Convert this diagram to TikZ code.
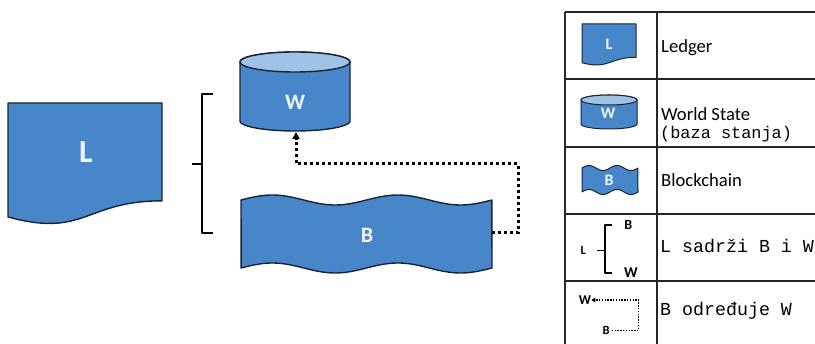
\documentclass[tikz,border=0pt]{standalone}
\usepackage{fontspec}
\setmainfont{Carlito}
\newfontfamily\monof{Liberation Mono}
\usetikzlibrary{arrows.meta}
\definecolor{shapeblue}{RGB}{72,134,202}
\definecolor{toplight}{RGB}{160,194,230}
\definecolor{edgecol}{RGB}{25,35,55}
\definecolor{lettercol}{RGB}{240,245,252}
\tikzset{
  shp/.style={fill=shapeblue, draw=edgecol, line width=1.4pt, line join=round},
  shpsmall/.style={fill=shapeblue, draw=edgecol, line width=1pt, line join=round},
  lettr/.style={text=lettercol, font=\bfseries\fontsize{#1}{#1}\selectfont, inner sep=0pt},
  blackletter/.style={text=black, font=\bfseries\fontsize{#1}{#1}\selectfont, inner sep=0pt},
  brk/.style={line width=2.3pt, line join=round},
  brksmall/.style={line width=1.6pt, line join=round},
  dotline/.style={line width=3pt, dash pattern=on 3pt off 3pt},
  dotsmall/.style={line width=1.4pt, dash pattern=on 1.4pt off 1.4pt},
  tbl/.style={line width=1.3pt, draw=black!85},
  legtxt/.style={anchor=base west, inner sep=0pt, font=\fontsize{18.6}{18.6}\selectfont},
  legmono/.style={anchor=base west, inner sep=0pt, font=\monof\fontsize{#1}{#1}\selectfont},
}
% document shape: x0, y0, w, h
\newcommand\mydocshape[5]{\draw[#5] (#1,#2) -- ({#1+#3},#2) -- ({#1+#3},{#2+0.802*#4})
  .. controls ({#1+#3/2},{#2+0.802*#4}) and ({#1+#3/2},{#2+1.1075*#4}) .. (#1,{#2+0.934*#4}) -- cycle;}
% cylinder: x0, x1, ytop-centre, ybottom-side-end, ry
\newcommand\mycylshape[6]{%
  \draw[#6] (#1,#3) -- (#1,#4)
    -- plot[domain=180:360,samples=40] ({(#1+#2)/2+(#2-#1)/2*cos(\x)},{#4-#5*sin(\x)})
    -- (#2,#3)
    -- plot[domain=0:180,samples=40] ({(#1+#2)/2+(#2-#1)/2*cos(\x)},{#3-#5*sin(\x)}) -- cycle;
  \draw[#6, fill=toplight] ({(#1+#2)/2},#3) ellipse [x radius={(#2-#1)/2}, y radius=#5];}
% wave banner: x0, w, ytop, ybottom, amplitude
\newcommand\mywaveshape[6]{%
  \draw[#6] plot[domain=0:1,samples=80] ({#1+#2*\x},{#3-#5*sin(720*\x)})
    -- plot[domain=1:0,samples=80] ({#1+#2*\x},{#4-#5*sin(720*\x)}) -- cycle;}

\begin{document}
\begin{tikzpicture}[x=1pt,y=-1pt]
\useasboundingbox (0,0) rectangle (815,344);
\fill[white] (0,0) rectangle (815,344);

% ---- main diagram ----
\mydocshape{8}{103}{154}{122}{shp}
\node[lettr=32] (Lmain) at (86,152) {L};

\mycylshape{240}{350}{62}{121}{10}{shp}
\node[lettr=22] (Wmain) at (295,102) {W};

\mywaveshape{241}{251}{200}{268}{5}{shp}
\node[lettr=22] (Bmain) at (367,235) {B};

% bracket
\coordinate (brTop) at (213,94);
\coordinate (brBot) at (213,233);
\coordinate (brMid) at (192,164);
\draw[brk] (brTop) -- (202,94) -- (202,233) -- (brBot);
\draw[brk] (brMid) -- (202,164);

% B determines W
\coordinate (Bport) at (492,233);
\coordinate (Wport) at (296,132);
\draw[dotline, -{Triangle[length=7pt,width=7pt]}] (Bport) -- (518,233) -- (518,164) -- (296,164) -- (Wport);

% ---- legend table ----
\draw[tbl] (565,12) -- (830,12);
\draw[tbl] (565,12) -- (565,350);
\draw[tbl] (657,12) -- (657,350);
\foreach \yy in {79,147,214,281} \draw[tbl] (565,\yy) -- (830,\yy);

% row 1
\mydocshape{582}{24}{54}{41.5}{shpsmall}
\node[lettr=16] (Lleg) at (609,44) {L};
\node[legtxt] (ledgerTxt) at (661,53) {Ledger};

% row 2
\mycylshape{581}{637}{100}{124}{5}{shpsmall}
\node[lettr=16] (Wleg) at (608,113) {W};
\node[legtxt] (wsTxt) at (661,120.5) {World State};
\node[legmono=16.9] (bazaTxt) at (660,139) {(baza stanja)};

% row 3
\mywaveshape{582}{56}{168}{192}{2.5}{shpsmall}
\node[lettr=16] (Bleg) at (609,180) {B};
\node[legtxt] (bcTxt) at (661,187) {Blockchain};

% row 4
\node[blackletter=12.5] (Lb) at (583.3,250.5) {L};
\node[blackletter=14] (Bb) at (628.3,224.5) {B};
\node[blackletter=15] (Wb) at (631,272.5) {W};
\draw[brksmall] (612.3,225) -- (605,225) -- (605,273.3) -- (612.3,273.3);
\draw[brksmall] (597.3,250.5) -- (605,250.5);
\node[legmono=18.3] (sadTxt) at (660,253) {L sadrži B i W};

% row 5
\node[blackletter=13.5] (Wd) at (585,300) {W};
\node[blackletter=12.5] (Bd) at (606,330.3) {B};
\draw[dotsmall, -{Triangle[length=4pt,width=4.5pt]}] (Bd.east) ++(2,0) -- (638.5,330.3) -- (638.5,300) -- (Wd.east);
\node[legmono=18.3] (odTxt) at (660,316) {B određuje W};
\end{tikzpicture}
\end{document}
